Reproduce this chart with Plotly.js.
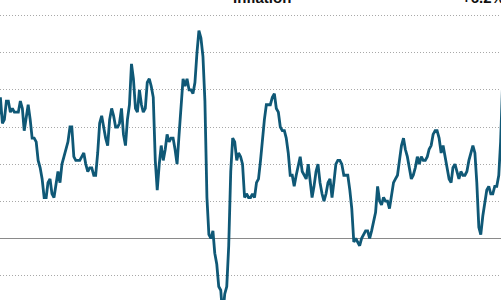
<!DOCTYPE html>
<html>
<head>
<meta charset="utf-8">
<script src="https://cdn.plot.ly/plotly-3.0.1.min.js"></script>
<style>html,body{margin:0;padding:0;background:#fff;overflow:hidden}#chart{width:501px;height:300px}</style>
</head>
<body>
<div id="chart"></div>
<script>
// US CPI, year-over-year change (%), monthly, Jan 2000 – Oct 2021
const startYear = 2000;
const inflation = [
  2.7,3.2,3.8,3.1,3.2,3.7,3.7,3.4,3.5,3.4,3.4,3.4,
  3.7,3.5,2.9,3.3,3.6,3.2,2.7,2.7,2.6,2.1,1.9,1.6,
  1.1,1.1,1.5,1.6,1.2,1.1,1.5,1.8,1.5,2.0,2.2,2.4,
  2.6,3.0,3.0,2.2,2.1,2.1,2.1,2.2,2.3,2.0,1.8,1.9,
  1.9,1.7,1.7,2.3,3.1,3.3,3.0,2.7,2.5,3.2,3.5,3.3,
  3.0,3.0,3.1,3.5,2.8,2.5,3.2,3.6,4.7,4.3,3.5,3.4,
  4.0,3.6,3.4,3.5,4.2,4.3,4.1,3.8,2.1,1.3,2.0,2.5,
  2.1,2.4,2.8,2.6,2.7,2.7,2.4,2.0,2.8,3.5,4.3,4.1,
  4.3,4.0,4.0,3.9,4.2,5.0,5.6,5.4,4.9,3.7,1.1,0.1,
  0.0,0.2,-0.4,-0.7,-1.3,-1.4,-2.1,-1.5,-1.3,-0.2,1.8,2.7,
  2.6,2.1,2.3,2.2,2.0,1.1,1.2,1.1,1.1,1.2,1.1,1.5,
  1.6,2.1,2.7,3.2,3.6,3.6,3.6,3.8,3.9,3.5,3.4,3.0,
  2.9,2.9,2.7,2.3,1.7,1.7,1.4,1.7,2.0,2.2,1.8,1.7,
  1.6,2.0,1.5,1.1,1.4,1.8,2.0,1.5,1.2,1.0,1.2,1.5,
  1.6,1.1,1.5,2.0,2.1,2.1,2.0,1.7,1.7,1.7,1.3,0.8,
  -0.1,0.0,-0.1,-0.2,0.0,0.1,0.2,0.2,0.0,0.2,0.5,0.7,
  1.4,1.0,0.9,1.1,1.0,1.0,0.8,1.1,1.5,1.6,1.7,2.1,
  2.5,2.7,2.4,2.2,1.9,1.6,1.7,1.9,2.2,2.0,2.2,2.1,
  2.1,2.2,2.4,2.5,2.8,2.9,2.9,2.7,2.3,2.5,2.2,1.9,
  1.6,1.5,1.9,2.0,1.8,1.6,1.8,1.7,1.7,1.8,2.1,2.3,
  2.5,2.3,1.5,0.3,0.1,0.6,1.0,1.3,1.4,1.2,1.2,1.4,
  1.4,1.7,2.6,4.2,5.0,5.4,5.4,5.3,5.4,6.2
];
const yTicks = [-1,0,1,2,3,4,5,6];
const titleText = "Inflation";
const lastLabel = "+6.2%";

const months = inflation.map((v,i)=>{
  const y = startYear + Math.floor(i/12);
  const m = (i%12)+1;
  return y + "-" + String(m).padStart(2,"0") + "-01";
});

const traces = [{
  x: months, y: inflation, type: "scatter", mode: "lines",
  line: {color: "#0f5876", width: 2.8, shape: "linear"},
  hoverinfo: "skip"
}];

const layout = {
  width: 501, height: 300,
  margin: {l:0, r:0, t:0, b:0, pad:0},
  paper_bgcolor: "#fff", plot_bgcolor: "#fff",
  showlegend: false,
  xaxis: {
    type: "date", range: ["2000-02-24","2021-03-07"],
    showgrid: false, zeroline: false, showline: false, showticklabels: false, ticks: ""
  },
  yaxis: {
    range: [-1.663, 6.423], tickvals: yTicks,
    showgrid: true, gridcolor: "#a8a8a8", gridwidth: 1, griddash: "1px,2px",
    zeroline: true, zerolinecolor: "#8a8a8a", zerolinewidth: 1.6,
    showline: false, showticklabels: false, ticks: ""
  },
  annotations: [
    {text: "<b>" + titleText + "</b>", xref: "paper", yref: "paper", x: 262/501, y: 1 - 5/300,
     xanchor: "center", yanchor: "bottom", showarrow: false, yshift: -3,
     font: {family: "Liberation Sans, Arial, sans-serif", size: 15, color: "#111"}},
    {text: "<b>" + lastLabel + "</b>", xref: "paper", yref: "paper", x: 460/501, y: 1 - 5/300,
     xanchor: "left", yanchor: "bottom", showarrow: false, yshift: -3,
     font: {family: "Liberation Sans, Arial, sans-serif", size: 15, color: "#111"}}
  ]
};

Plotly.newPlot("chart", traces, layout, {staticPlot: true, displayModeBar: false});
</script>
</body>
</html>
